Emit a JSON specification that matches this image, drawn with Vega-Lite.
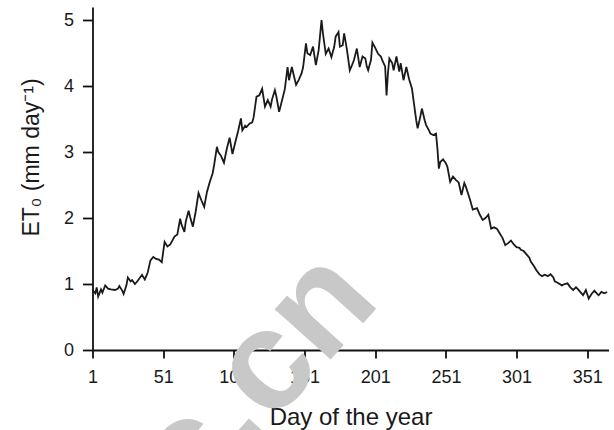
{
  "$schema": "https://vega.github.io/schema/vega-lite/v6.json",
  "width": 516,
  "height": 343,
  "autosize": {"type": "none"},
  "padding": {"left": 92.5, "top": 7, "right": 5, "bottom": 80},
  "config": {
    "view": {"stroke": null},
    "font": "Liberation Sans",
    "axis": {"grid": false, "domainColor": "#111111", "tickColor": "#111111", "labelColor": "#1a1a1a", "titleColor": "#1a1a1a", "domainWidth": 1.8, "tickWidth": 1.8, "labelFontSize": 18, "titleFontSize": 23, "titleFontWeight": "normal", "labelFont": "Liberation Sans", "titleFont": "Liberation Sans"}
  },
  "layer": [
    {
      "data": {"values": [
        {"day":1,"et0":0.91},{"day":3,"et0":0.86},{"day":4,"et0":0.95},{"day":5,"et0":0.81},{"day":7,"et0":0.92},{"day":8,"et0":0.87},{"day":10,"et0":0.98},{"day":12,"et0":0.93},{"day":14,"et0":0.92},{"day":17,"et0":0.91},{"day":19,"et0":0.93},{"day":20,"et0":0.97},{"day":22,"et0":0.9},{"day":23,"et0":0.85},{"day":25,"et0":0.98},{"day":26,"et0":1.1},{"day":28,"et0":1.04},{"day":29,"et0":1.06},{"day":31,"et0":1.0},{"day":33,"et0":1.05},{"day":36,"et0":1.14},{"day":38,"et0":1.07},{"day":40,"et0":1.17},{"day":42,"et0":1.36},{"day":44,"et0":1.41},{"day":46,"et0":1.38},{"day":48,"et0":1.37},{"day":50,"et0":1.33},{"day":52,"et0":1.64},{"day":54,"et0":1.57},{"day":56,"et0":1.6},{"day":57,"et0":1.64},{"day":59,"et0":1.72},{"day":61,"et0":1.75},{"day":63,"et0":1.99},{"day":64,"et0":1.9},{"day":66,"et0":1.79},{"day":67,"et0":1.95},{"day":69,"et0":2.11},{"day":70,"et0":2.02},{"day":72,"et0":1.87},{"day":74,"et0":2.1},{"day":76,"et0":2.38},{"day":78,"et0":2.27},{"day":80,"et0":2.17},{"day":82,"et0":2.4},{"day":84,"et0":2.55},{"day":86,"et0":2.68},{"day":87,"et0":2.8},{"day":89,"et0":3.08},{"day":90,"et0":3.0},{"day":92,"et0":2.94},{"day":94,"et0":2.84},{"day":96,"et0":3.05},{"day":98,"et0":3.22},{"day":100,"et0":2.97},{"day":102,"et0":3.15},{"day":104,"et0":3.32},{"day":106,"et0":3.51},{"day":107,"et0":3.33},{"day":109,"et0":3.4},{"day":110,"et0":3.38},{"day":112,"et0":3.43},{"day":114,"et0":3.45},{"day":115,"et0":3.53},{"day":117,"et0":3.84},{"day":119,"et0":3.86},{"day":121,"et0":3.96},{"day":123,"et0":3.69},{"day":124,"et0":3.74},{"day":125,"et0":3.79},{"day":127,"et0":3.69},{"day":128,"et0":3.8},{"day":130,"et0":3.94},{"day":131,"et0":3.85},{"day":133,"et0":3.61},{"day":135,"et0":3.78},{"day":137,"et0":3.95},{"day":139,"et0":4.29},{"day":140,"et0":4.09},{"day":142,"et0":4.29},{"day":143,"et0":4.2},{"day":145,"et0":4.02},{"day":147,"et0":4.1},{"day":149,"et0":4.2},{"day":150,"et0":4.29},{"day":152,"et0":4.65},{"day":153,"et0":4.5},{"day":155,"et0":4.47},{"day":157,"et0":4.6},{"day":159,"et0":4.32},{"day":161,"et0":4.55},{"day":163,"et0":5.0},{"day":164,"et0":4.8},{"day":166,"et0":4.49},{"day":168,"et0":4.57},{"day":170,"et0":4.44},{"day":172,"et0":4.6},{"day":173,"et0":4.75},{"day":175,"et0":4.82},{"day":176,"et0":4.6},{"day":178,"et0":4.62},{"day":179,"et0":4.8},{"day":181,"et0":4.55},{"day":183,"et0":4.24},{"day":185,"et0":4.34},{"day":186,"et0":4.4},{"day":188,"et0":4.57},{"day":190,"et0":4.29},{"day":192,"et0":4.45},{"day":194,"et0":4.42},{"day":195,"et0":4.3},{"day":196,"et0":4.24},{"day":198,"et0":4.4},{"day":199,"et0":4.66},{"day":201,"et0":4.58},{"day":203,"et0":4.49},{"day":205,"et0":4.45},{"day":206,"et0":4.39},{"day":208,"et0":4.3},{"day":209,"et0":3.86},{"day":210,"et0":4.2},{"day":211,"et0":4.42},{"day":213,"et0":4.35},{"day":214,"et0":4.24},{"day":216,"et0":4.45},{"day":218,"et0":4.22},{"day":219,"et0":4.35},{"day":221,"et0":4.09},{"day":223,"et0":4.29},{"day":225,"et0":4.1},{"day":227,"et0":3.96},{"day":228,"et0":3.8},{"day":230,"et0":3.48},{"day":231,"et0":3.36},{"day":233,"et0":3.55},{"day":234,"et0":3.66},{"day":236,"et0":3.48},{"day":237,"et0":3.41},{"day":239,"et0":3.33},{"day":240,"et0":3.28},{"day":242,"et0":3.26},{"day":244,"et0":3.28},{"day":245,"et0":3.05},{"day":246,"et0":2.75},{"day":247,"et0":2.85},{"day":249,"et0":2.89},{"day":251,"et0":2.83},{"day":252,"et0":2.78},{"day":254,"et0":2.55},{"day":256,"et0":2.63},{"day":258,"et0":2.58},{"day":260,"et0":2.54},{"day":262,"et0":2.35},{"day":264,"et0":2.53},{"day":265,"et0":2.48},{"day":267,"et0":2.35},{"day":268,"et0":2.28},{"day":270,"et0":2.13},{"day":273,"et0":2.15},{"day":275,"et0":2.05},{"day":277,"et0":1.97},{"day":279,"et0":2.0},{"day":281,"et0":2.05},{"day":283,"et0":1.84},{"day":285,"et0":1.86},{"day":287,"et0":1.84},{"day":289,"et0":1.77},{"day":291,"et0":1.7},{"day":293,"et0":1.59},{"day":295,"et0":1.62},{"day":297,"et0":1.66},{"day":299,"et0":1.6},{"day":301,"et0":1.56},{"day":303,"et0":1.55},{"day":304,"et0":1.52},{"day":306,"et0":1.5},{"day":308,"et0":1.45},{"day":310,"et0":1.4},{"day":311,"et0":1.34},{"day":313,"et0":1.28},{"day":315,"et0":1.21},{"day":317,"et0":1.15},{"day":319,"et0":1.12},{"day":321,"et0":1.14},{"day":323,"et0":1.12},{"day":325,"et0":1.15},{"day":327,"et0":1.1},{"day":328,"et0":1.04},{"day":330,"et0":1.02},{"day":333,"et0":0.98},{"day":335,"et0":1.0},{"day":337,"et0":1.01},{"day":339,"et0":0.95},{"day":341,"et0":0.91},{"day":343,"et0":0.95},{"day":344,"et0":0.93},{"day":346,"et0":0.88},{"day":348,"et0":0.83},{"day":350,"et0":0.91},{"day":352,"et0":0.78},{"day":354,"et0":0.85},{"day":356,"et0":0.9},{"day":358,"et0":0.85},{"day":359,"et0":0.83},{"day":361,"et0":0.88},{"day":363,"et0":0.86},{"day":365,"et0":0.88}
      ]},
      "mark": {"type": "line", "color": "#1a1a1a", "strokeWidth": 1.8, "clip": false},
      "encoding": {
        "x": {"field": "day", "type": "quantitative",
          "scale": {"domain": [1, 366], "nice": false, "zero": false},
          "axis": {"values": [1, 51, 101, 151, 201, 251, 301, 351], "format": "d", "tickSize": 8, "labelPadding": 10, "labelFlush": false, "title": "Day of the year", "titleFontSize": 24, "titleY": 74, "titleBaseline": "alphabetic"}},
        "y": {"field": "et0", "type": "quantitative",
          "scale": {"domain": [0, 5.2], "nice": false},
          "axis": {"values": [0, 1, 2, 3, 4, 5], "format": "d", "tickSize": 10, "labelPadding": 9, "title": "ET₀ (mm day⁻¹)", "titleX": -54, "titleY": 150, "titleAlign": "center", "titleBaseline": "alphabetic", "titleAngle": 270}}
      }
    },
    {
      "data": {"values": [{"mark": "c.cn"}]},
      "mark": {"type": "text", "fontSize": 142, "fontWeight": "bold", "font": "Liberation Sans", "color": "#c8c8c8", "angle": -48, "align": "center", "baseline": "middle", "clip": false},
      "encoding": {
        "text": {"field": "mark", "type": "nominal"},
        "x": {"datum": 116, "type": "quantitative"},
        "y": {"datum": -0.44, "type": "quantitative"}
      }
    }
  ]
}
